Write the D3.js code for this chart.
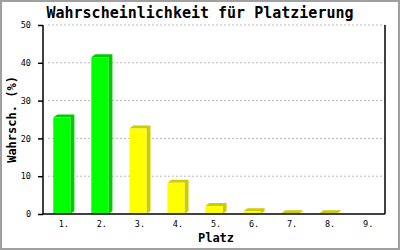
<!DOCTYPE html>
<html>
<head>
<meta charset="utf-8">
<script src="https://cdn.jsdelivr.net/npm/d3@7"></script>
<style>
  body { margin: 0; background: #fff; }
  svg { display: block; }
</style>
</head>
<body>
<svg id="chart"></svg>
<script>
// chart data
const places = ["1.", "2.", "3.", "4.", "5.", "6.", "7.", "8.", "9."];
const chances = [25.5, 41.5, 22.6, 8.3, 2.1, 0.7, 0.2, 0.2, 0];
const barColors = ["green", "green", "yellow", "yellow", "yellow", "yellow", "yellow", "yellow", "yellow"];
const yTicks = [0, 10, 20, 30, 40, 50];

const width = 400;
const height = 250;
const svg = d3.select("#chart").attr("width", width).attr("height", height);

const margin = { top: 25, right: 15, bottom: 36, left: 43 };
const innerWidth = width - margin.left - margin.right;
const innerHeight = height - margin.top - margin.bottom;

const palette = {
    green: { front: "#00ff00", side: "#00cc00" },
    yellow: { front: "#ffff00", side: "#cccc00" }
};
const depthX = 4;
const depthY = 3;
const mono = "'DejaVu Sans Mono', 'Liberation Mono', monospace";

// outer frame
svg.append("rect")
    .attr("x", 1).attr("y", 1)
    .attr("width", width - 2).attr("height", height - 2)
    .attr("fill", "#fff")
    .attr("stroke", "#a0a0a0")
    .attr("stroke-width", 2);

const g = svg.append("g")
    .attr("transform", `translate(${margin.left},${margin.top})`);

const x = d3.scaleBand().domain(places).range([0, innerWidth]).paddingInner(0.55).paddingOuter(0.27);
const y = d3.scaleLinear().domain([0, 50]).range([innerHeight, 0]);

// grid lines
g.append("g")
    .selectAll("line")
    .data(yTicks.filter(d => d > 0))
    .join("line")
    .attr("x1", 5)
    .attr("x2", innerWidth)
    .attr("y1", d => y(d))
    .attr("y2", d => y(d))
    .attr("stroke", "#bbbbbb")
    .attr("stroke-dasharray", "2,2");

// bars with a small 3d look
const bars = g.append("g")
    .selectAll("g")
    .data(places.map((p, i) => ({ place: p, value: chances[i], color: palette[barColors[i]] })).filter(d => d.value > 0))
    .join("g");

bars.append("polygon")
    .attr("points", d => {
        const x0 = x(d.place), x1 = x0 + x.bandwidth(), yt = y(d.value), yb = y(0);
        return [[x1, yb], [x1 + depthX, yb - depthY], [x1 + depthX, yt - depthY], [x0 + depthX, yt - depthY], [x0, yt], [x1, yt]]
            .map(p => p.join(",")).join(" ");
    })
    .attr("fill", d => d.color.side);

bars.append("rect")
    .attr("x", d => x(d.place))
    .attr("y", d => y(d.value))
    .attr("width", x.bandwidth())
    .attr("height", d => y(0) - y(d.value))
    .attr("fill", d => d.color.front);

// y axis
const yAxis = g.append("g")
    .call(d3.axisLeft(y).tickValues(yTicks).tickSize(5).tickPadding(7));
yAxis.select(".domain").attr("stroke", "#000").attr("stroke-width", 1.5).attr("d", `M0,0V${innerHeight}`);
yAxis.selectAll(".tick line").attr("stroke", "#000").attr("stroke-width", 1.5);
yAxis.selectAll(".tick text").attr("font-family", mono).attr("font-size", 8.5).attr("fill", "#000");

// x axis
const xAxis = g.append("g")
    .attr("transform", `translate(0,${innerHeight})`)
    .call(d3.axisBottom(x).tickSize(0).tickPadding(7));
xAxis.select(".domain").attr("stroke", "#000").attr("stroke-width", 1.5).attr("d", `M0,0H${innerWidth}`);
xAxis.selectAll(".tick text")
    .attr("font-family", mono).attr("font-size", 8.5).attr("fill", "#000")
    .attr("transform", `translate(${depthX / 2},0)`);

// right border of plot
g.append("line")
    .attr("x1", innerWidth).attr("x2", innerWidth)
    .attr("y1", 0).attr("y2", innerHeight)
    .attr("stroke", "#000").attr("stroke-width", 1.5);

// titles
svg.append("text")
    .attr("x", 200).attr("y", 18)
    .attr("text-anchor", "middle")
    .attr("font-family", mono).attr("font-size", 15)
    .attr("font-weight", 600)
    .text("Wahrscheinlichkeit für Platzierung");

svg.append("text")
    .attr("x", margin.left + innerWidth / 2 + 2).attr("y", 242)
    .attr("text-anchor", "middle")
    .attr("font-family", mono).attr("font-size", 12).attr("font-weight", "bold")
    .text("Platz");

svg.append("text")
    .attr("transform", `translate(16,${margin.top + innerHeight / 2}) rotate(-90)`)
    .attr("text-anchor", "middle")
    .attr("font-family", mono).attr("font-size", 12).attr("font-weight", "bold")
    .text("Wahrsch. (%)");
</script>
</body>
</html>
